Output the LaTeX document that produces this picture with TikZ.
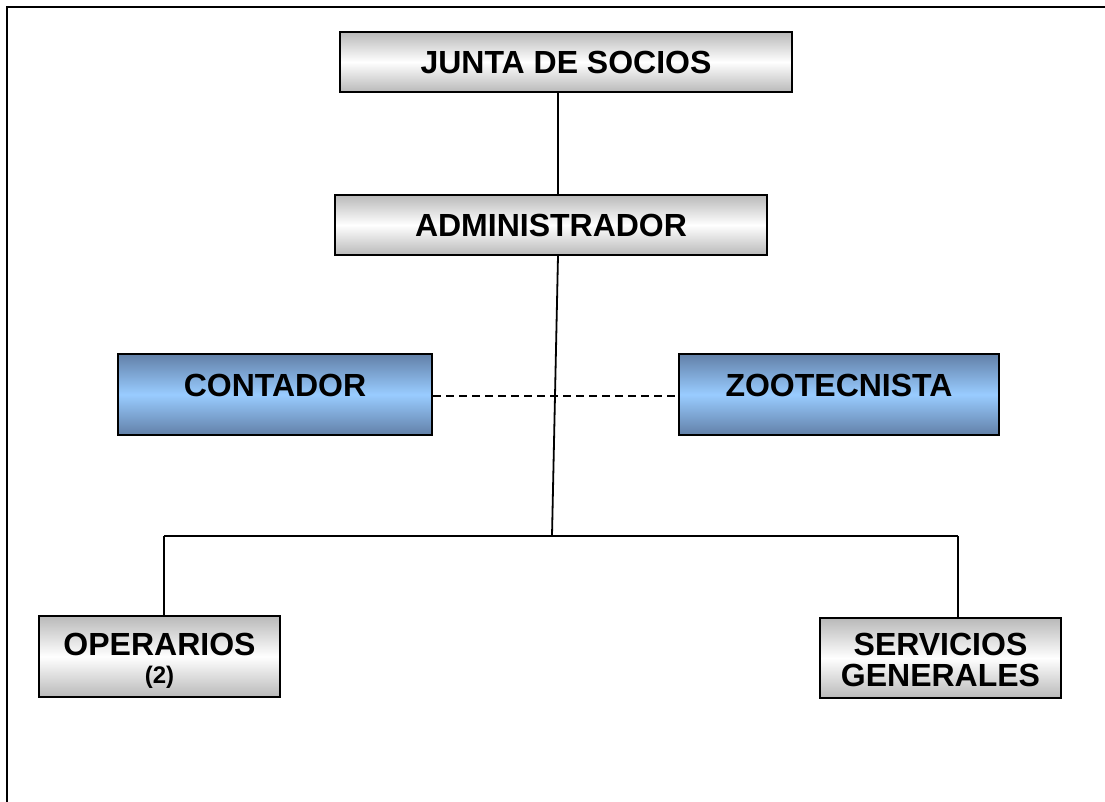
\documentclass[tikz,border=0pt]{standalone}
\usepackage{fontspec}
\setmainfont{Liberation Sans}
\definecolor{azuloscuro}{RGB}{98,128,168}
\definecolor{azulclaro}{RGB}{153,204,255}
\begin{document}
\begin{tikzpicture}[x=0.5pt, y=-0.5pt,
    cargo/.style={draw, line width=1pt, top color=gray!55, bottom color=gray!55, middle color=white,
      font=\fontsize{16}{16}\selectfont\bfseries, align=center, inner sep=0pt},
    asesor/.style={cargo, top color=azuloscuro, bottom color=azuloscuro, middle color=azulclaro, text depth=9pt},
    linea/.style={line width=0.9pt}]
    % Frame
    \clip (0,0) rectangle (1105,802);
    \draw[line width=1.3pt] (7,7) rectangle (1200,900);

    % Boxes
    \node[cargo, minimum width=226pt, minimum height=30pt] (junta) at (566,62) {JUNTA DE SOCIOS};
    \node[cargo, minimum width=216pt, minimum height=30pt] (admin) at (551,225) {ADMINISTRADOR};
    \node[asesor, minimum width=157pt, minimum height=40.5pt] (contador) at (275,394.5) {CONTADOR};
    \node[asesor, minimum width=160pt, minimum height=40.5pt] (zootecnista) at (839,394.5) {ZOOTECNISTA};
    \node[cargo, minimum width=120.5pt, minimum height=40.5pt, text height=26.5pt, text depth=0pt] (operarios) at (159.5,656.5)
      {OPERARIOS\\[-2.5pt]{\fontsize{12}{12}\selectfont (2)}};
    \node[cargo, minimum width=120.5pt, minimum height=40pt, text height=29pt, text depth=0pt] (servicios) at (940.5,658)
      {SERVICIOS\\GENERALES};

    % Branch points
    \coordinate (rama) at (552,536);
    \coordinate (ramaizq) at (164,536);
    \coordinate (ramader) at (958,536);

    % Lines
    \draw[linea] ([xshift=-4pt]junta.south) -- ([xshift=3.5pt]admin.north);
    \draw[linea] ([xshift=3.5pt]admin.south) -- (rama);
    \draw[linea] (ramaizq) -- (ramader);
    \draw[linea] (ramaizq) -- (ramaizq |- operarios.north);
    \draw[linea] (ramader) -- (ramader |- servicios.north);
    \draw[linea, dash pattern=on 4pt off 2.5pt] ([yshift=-0.75pt]contador.east) -- ([yshift=-0.75pt]zootecnista.west);
\end{tikzpicture}
\end{document}
